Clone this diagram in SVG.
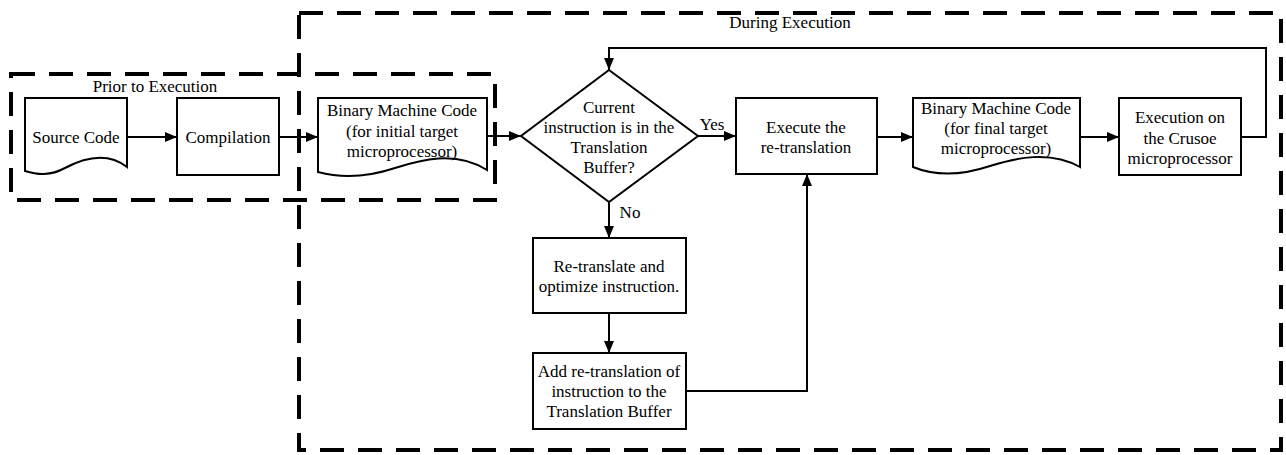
<svg xmlns="http://www.w3.org/2000/svg" width="1286" height="455" viewBox="0 0 1286 455">
<style>
.bg{fill:#fff}
.shape{fill:#fff;stroke:#000;stroke-width:2}
.dash{fill:none;stroke:#000;stroke-width:4;stroke-dasharray:24 14}
.conn{fill:none;stroke:#000;stroke-width:2}
text{font-family:"Liberation Serif","Times New Roman",serif;font-size:17px;fill:#000;text-anchor:middle}
</style>
<defs>
<marker id="arr" viewBox="0 0 12 10" refX="12" refY="5" markerWidth="12" markerHeight="10" markerUnits="userSpaceOnUse" orient="auto">
<path d="M0,0 L12,5 L0,10 Z" fill="#000"/>
</marker>
</defs>
<rect class="bg" x="0" y="0" width="1286" height="455"/>
<g id="prior-region">
<rect class="dash" x="11" y="74" width="484" height="126"/>
<text x="155" y="92">Prior to Execution</text>
</g>
<g id="during-region">
<rect class="dash" x="299" y="13" width="982" height="437"/>
<text x="790" y="28">During Execution</text>
</g>
<g id="connectors">
<line class="conn" x1="127" y1="137" x2="177" y2="137" marker-end="url(#arr)"/>
<line class="conn" x1="279" y1="137" x2="318" y2="137" marker-end="url(#arr)"/>
<line class="conn" x1="487" y1="136" x2="521" y2="136" marker-end="url(#arr)"/>
<line class="conn" x1="698" y1="136" x2="736" y2="136" marker-end="url(#arr)"/>
<line class="conn" x1="609" y1="202" x2="609" y2="238" marker-end="url(#arr)"/>
<line class="conn" x1="609" y1="313" x2="609" y2="353" marker-end="url(#arr)"/>
<polyline class="conn" points="686,391 807,391 807,174" marker-end="url(#arr)"/>
<line class="conn" x1="877" y1="137" x2="913" y2="137" marker-end="url(#arr)"/>
<line class="conn" x1="1080" y1="137" x2="1119" y2="137" marker-end="url(#arr)"/>
<polyline class="conn" points="1241,137 1266,137 1266,48 609,48 609,70" marker-end="url(#arr)"/>
<text x="712" y="130">Yes</text>
<text x="630" y="218">No</text>
</g>
<g id="source-code">
<path class="shape" d="M25,98 H127 V167 C105,150 80,160 65,168 C50,176 38,175 25,171 Z"/>
<text x="76" y="143">Source Code</text>
</g>
<g id="compilation">
<rect class="shape" x="177" y="98" width="102" height="77"/>
<text x="228" y="143">Compilation</text>
</g>
<g id="binary-initial">
<path class="shape" d="M318,98 H487 V170 C455,150 420,160 395,168 C365,178 340,178 318,172 Z"/>
<text x="402" y="116">Binary Machine Code</text>
<text x="402" y="137">(for initial target</text>
<text x="402" y="157">microprocessor)</text>
</g>
<g id="decision">
<polygon class="shape" points="609,70 698,136 609,202 521,136"/>
<text x="609" y="113">Current</text>
<text x="609" y="133">instruction is in the</text>
<text x="609" y="153">Translation</text>
<text x="609" y="173">Buffer?</text>
</g>
<g id="execute-retranslation">
<rect class="shape" x="736" y="98" width="141" height="76"/>
<text x="806" y="133">Execute the</text>
<text x="806" y="153">re-translation</text>
</g>
<g id="retranslate">
<rect class="shape" x="533" y="238" width="153" height="75"/>
<text x="609" y="272">Re-translate and</text>
<text x="609" y="292">optimize instruction.</text>
</g>
<g id="add-retranslation">
<rect class="shape" x="533" y="353" width="153" height="76"/>
<text x="609" y="377">Add re-translation of</text>
<text x="609" y="397">instruction to the</text>
<text x="609" y="417">Translation Buffer</text>
</g>
<g id="binary-final">
<path class="shape" d="M913,98 H1080 V167 C1050,150 1015,158 990,166 C960,176 935,176 913,167 Z"/>
<text x="996" y="114">Binary Machine Code</text>
<text x="996" y="134">(for final target</text>
<text x="996" y="154">microprocessor)</text>
</g>
<g id="execution-crusoe">
<rect class="shape" x="1119" y="98" width="122" height="77"/>
<text x="1180" y="123">Execution on</text>
<text x="1180" y="144">the Crusoe</text>
<text x="1180" y="164">microprocessor</text>
</g>
</svg>
